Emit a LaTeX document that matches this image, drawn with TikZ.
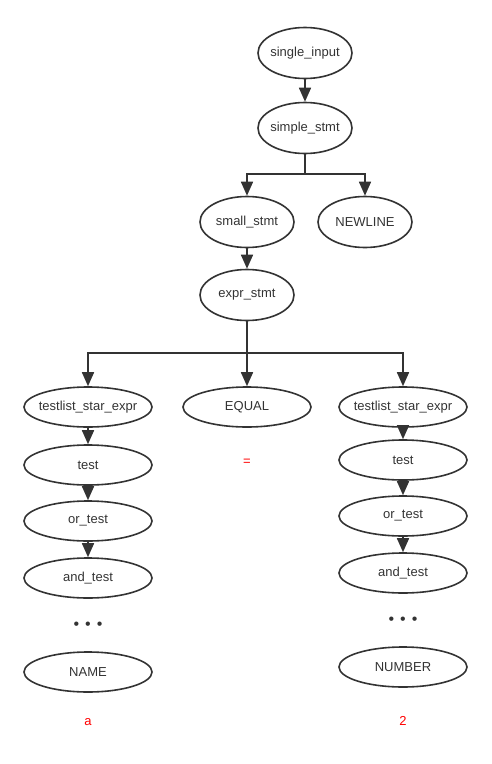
\documentclass[tikz,border=0pt]{standalone}
\usepackage{fontspec}
\setmainfont{Liberation Sans}
\usetikzlibrary{arrows.meta,shapes.geometric}
\definecolor{ink}{HTML}{333333}
\definecolor{leaf}{HTML}{FF0000}

\begin{document}
\begin{tikzpicture}[x=1pt,y=-1pt,>={Triangle[length=14pt,width=12pt]},font=\fontsize{13}{15}\selectfont,text=ink]
 \tikzset{rule/.style={draw=ink,line width=1.6pt,ellipse,inner xsep=-6pt,inner ysep=0pt,minimum width=94pt,minimum height=51pt},
          term/.style={rule,minimum width=128pt,minimum height=40pt},
          arr/.style={->,draw=ink,line width=1.6pt},
          tok/.style={text=leaf},
          more/.style={font=\fontsize{16}{16}\selectfont}}
 \useasboundingbox (0,0) rectangle (492,764);
 % top of the tree
 \node[rule] (input) at (305,53) {single\_input};
 \node[rule] (simple) at (305,128) {simple\_stmt};
 \node[rule] (small) at (247,222) {small\_stmt};
 \node[rule] (newline) at (365,222) {NEWLINE};
 \node[rule] (expr) at (247,295) {expr\_stmt};
 \coordinate (fork1) at (305,174);
 \coordinate (fork2) at (247,353);
 \draw[arr] (input)--(simple);
 \draw[arr,-] (simple)--(fork1);
 \draw[arr] (fork1)-|(small); \draw[arr] (fork1)-|(newline);
 \draw[arr] (small)--(expr);
 \draw[arr,-] (expr)--(fork2);
 % three children of expr_stmt
 \node[term] (lhs) at (88,407) {testlist\_star\_expr};
 \node[term] (equal) at (247,407) {EQUAL};
 \node[term] (rhs) at (403,407) {testlist\_star\_expr};
 \draw[arr] (fork2)-|(lhs); \draw[arr] (fork2)--(equal); \draw[arr] (fork2)-|(rhs);
 \node[tok] (eqtok) at (247,462) {=};
 % left branch
 \node[term] (ltest) at (88,465) {test};
 \node[term] (lor) at (88,521) {or\_test};
 \node[term] (land) at (88,578) {and\_test};
 \node[more] (ldots) at (88,626) {•\hspace{6pt}•\hspace{6pt}•};
 \node[term] (name) at (88,672) {NAME};
 \node[tok] (atok) at (88,722) {a};
 \draw[arr] (lhs)--(ltest); \draw[arr] (ltest)--(lor); \draw[arr] (lor)--(land);
 % right branch
 \node[term] (rtest) at (403,460) {test};
 \node[term] (ror) at (403,516) {or\_test};
 \node[term] (rand) at (403,573) {and\_test};
 \node[more] (rdots) at (403,621) {•\hspace{6pt}•\hspace{6pt}•};
 \node[term] (number) at (403,667) {NUMBER};
 \node[tok] (ntok) at (403,721) {2};
 \draw[arr] (rhs)--(rtest); \draw[arr] (rtest)--(ror); \draw[arr] (ror)--(rand);
\end{tikzpicture}
\end{document}
